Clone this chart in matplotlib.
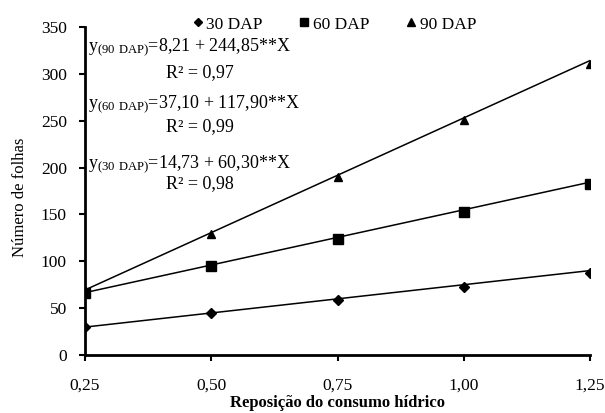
import numpy as np
import matplotlib
matplotlib.use("Agg")
import matplotlib.pyplot as plt

plt.rcParams['font.family'] = ['Liberation Serif', 'DejaVu Serif']
plt.rcParams['mathtext.fontset'] = 'custom'
plt.rcParams['mathtext.rm'] = 'Liberation Serif'

reposicao = [0.25, 0.50, 0.75, 1.00, 1.25]
folhas_30 = [30, 45, 59, 73, 88]
folhas_60 = [66, 95, 124, 153, 182]
folhas_90 = [69, 129, 190, 251, 311]

# regression coefficients (a + b*X)
coef_30 = (14.73, 60.30)
coef_60 = (37.10, 117.90)
coef_90 = (8.21, 244.85)

xticks = [0.25, 0.50, 0.75, 1.00, 1.25]
xticklabels = ['0,25', '0,50', '0,75', '1,00', '1,25']
yticks = [0, 50, 100, 150, 200, 250, 300, 350]

fig = plt.figure(figsize=(6.05, 4.13), dpi=100)
ax = fig.add_axes([0.1405, 0.1404, 0.835, 0.7942])

xs = np.array([reposicao[0], reposicao[-1]])
series = [(folhas_30, coef_30, 'D', 5, '30 DAP'),
          (folhas_60, coef_60, 's', 6.5, '60 DAP'),
          (folhas_90, coef_90, '^', 6, '90 DAP')]
for ys, (a, b), mk, ms, lab in series:
    ax.plot(xs, a + b * xs, color='black', lw=1.1, zorder=2)
    ax.plot(reposicao, ys, linestyle='none', marker=mk, ms=ms,
            color='black', label=lab, zorder=3)

ax.set_xlim(0.25, 1.25)
ax.set_ylim(0, 350)
ax.set_xticks(xticks)
ax.set_xticklabels(xticklabels)
ax.set_yticks(yticks)
for s in ['top', 'right']:
    ax.spines[s].set_visible(False)
for s in ['left', 'bottom']:
    ax.spines[s].set_linewidth(2)
ax.tick_params(axis='both', labelsize=12.5, width=1.5, length=4, direction='out')
ax.tick_params(axis='x', pad=12)
ax.tick_params(axis='y', pad=9)
ax.set_xlabel('Reposição do consumo hídrico', fontsize=12, fontweight='bold', labelpad=1)
ax.set_ylabel('Número de folhas', fontsize=12)
ax.yaxis.set_label_coords(-0.112, 0.48)

leg = ax.legend(loc='upper center', bbox_to_anchor=(0.492, 1.08), ncol=3,
                frameon=False, fontsize=12.5, handletextpad=0.1, columnspacing=2.0,
                handlelength=0.8, markerscale=0.85)

eqs = [(47, 73, r'$\mathregular{y_{(90\ DAP)}}$=8,21 + 244,85**X', 'R² = 0,97'),
       (104, 127, r'$\mathregular{y_{(60\ DAP)}}$=37,10 + 117,90**X', 'R² = 0,99'),
       (164, 184, r'$\mathregular{y_{(30\ DAP)}}$=14,73 + 60,30**X', 'R² = 0,98')]
for ypx, rpx, eq, r2 in eqs:
    fig.text(88 / 605, 1 - ypx / 413, eq, fontsize=13, va='center', ha='left')
    fig.text(200 / 605, 1 - rpx / 413, r2, fontsize=13, va='center', ha='center')

fig.savefig('out.png', dpi=100)
